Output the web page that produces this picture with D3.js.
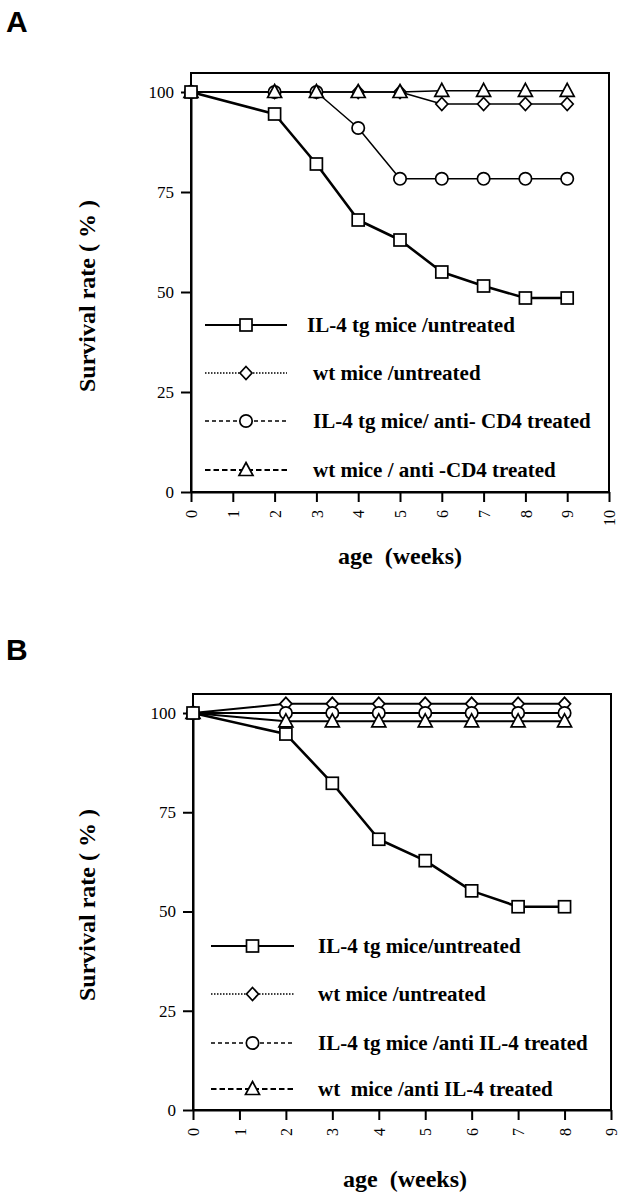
<!DOCTYPE html>
<html>
<head>
<meta charset="utf-8">
<script src="https://cdn.jsdelivr.net/npm/d3@7"></script>
<style>
  html, body { margin: 0; padding: 0; background: #fff; }
  svg text { font-family: "Liberation Serif", "Times New Roman", serif; fill: #000; }
</style>
</head>
<body>
<svg id="chart" width="628" height="1199"></svg>
<script>
// ---------------- DATA ----------------
// Panel A
const weeksA = [0, 2, 3, 4, 5, 6, 7, 8, 9];
const A_il4Untreated = [100, 94.5, 82, 68, 63, 55, 51.5, 48.5, 48.5];
const A_wtUntreated = [100, 100, 100, 100, 100, 97, 97, 97, 97];
const A_il4AntiCD4 = [100, 100, 100, 91, 78.3, 78.3, 78.3, 78.3, 78.3];
const A_wtAntiCD4 = [100, 100, 100, 100, 100, 100.3, 100.3, 100.3, 100.3];
const A_legendLabels = ["IL-4 tg mice /untreated", "wt mice /untreated",
  "IL-4 tg mice/ anti- CD4 treated", "wt mice / anti -CD4 treated"];
const A_xTicks = [0, 1, 2, 3, 4, 5, 6, 7, 8, 9, 10];

// Panel B
const weeksB = [0, 2, 3, 4, 5, 6, 7, 8];
const B_il4Untreated = [100, 94.7, 82.3, 68.2, 62.8, 55.2, 51.2, 51.2];
const B_wtUntreated = [100, 102.3, 102.3, 102.3, 102.3, 102.3, 102.3, 102.3];
const B_il4AntiIL4 = [100, 100, 100, 100, 100, 100, 100, 100];
const B_wtAntiIL4 = [100, 97.9, 97.9, 97.9, 97.9, 97.9, 97.9, 97.9];
const B_legendLabels = ["IL-4 tg mice/untreated", "wt mice /untreated",
  "IL-4 tg mice /anti IL-4 treated", "wt  mice /anti IL-4 treated"];
const B_xTicks = [0, 1, 2, 3, 4, 5, 6, 7, 8, 9];

const yTicks = [0, 25, 50, 75, 100];
const markerKinds = ["square", "diamond", "circle", "triangle"];

// ---------------- DRAWING ----------------
const svg = d3.select("#chart");
const SERIF = "'Liberation Serif', 'Times New Roman', serif";

function marker(g, kind, cx, cy) {
  const s = 12;
  let el;
  if (kind === "square") {
    el = g.append("rect").attr("x", cx - s / 2).attr("y", cy - s / 2)
      .attr("width", s).attr("height", s);
  } else if (kind === "circle") {
    el = g.append("circle").attr("cx", cx).attr("cy", cy).attr("r", 6.2);
  } else if (kind === "diamond") {
    el = g.append("path").attr("d",
      `M${cx},${cy - 6.5}L${cx + 6},${cy}L${cx},${cy + 6.5}L${cx - 6},${cy}Z`);
  } else {
    el = g.append("path").attr("d",
      `M${cx},${cy - 7.5}L${cx + 7},${cy + 5.5}L${cx - 7},${cy + 5.5}Z`);
  }
  el.attr("fill", "#fff").attr("stroke", "#000").attr("stroke-width", 1.7);
}

function drawPanel(cfg) {
  const g = svg.append("g");
  const x = d3.scaleLinear().domain([0, cfg.xMax]).range([cfg.left, cfg.right]);
  const y = d3.scaleLinear().domain([0, 100]).range([cfg.bottom, cfg.y100]);

  // frame
  g.append("rect").attr("x", cfg.left).attr("y", cfg.top)
    .attr("width", cfg.right - cfg.left).attr("height", cfg.bottom - cfg.top)
    .attr("fill", "none").attr("stroke", "#000").attr("stroke-width", 2);

  // y axis
  const ya = g.append("g").attr("transform", `translate(${cfg.left},0)`)
    .call(d3.axisLeft(y).tickValues(yTicks).tickSize(10).tickSizeOuter(0).tickPadding(7));
  ya.attr("font-family", null).attr("font-size", null);
  ya.select(".domain").attr("stroke-width", 2);
  ya.selectAll(".tick line").attr("stroke-width", 2);
  ya.selectAll(".tick text").style("font-size", "17px").style("font-family", SERIF);

  // x axis
  const xa = g.append("g").attr("transform", `translate(0,${cfg.bottom})`)
    .call(d3.axisBottom(x).tickValues(cfg.xTicks).tickSize(10).tickSizeOuter(0));
  xa.attr("font-family", null).attr("font-size", null);
  xa.select(".domain").attr("stroke-width", 2);
  xa.selectAll(".tick line").attr("stroke-width", 2);
  xa.selectAll(".tick text").style("font-size", "16px").style("font-family", SERIF)
    .attr("x", 0).attr("y", 0).attr("dy", "0.35em")
    .attr("text-anchor", "end")
    .attr("transform", "translate(0,18) rotate(-90)");

  // lines and markers
  const line = d3.line().x(d => x(d[0])).y(d => y(d[1]));
  const order = [1, 2, 3, 0];
  order.forEach(i => {
    const vals = cfg.series[i];
    const pts = cfg.weeks.map((w, j) => [w, vals[j]]);
    g.append("path").attr("d", line(pts)).attr("fill", "none")
      .attr("stroke", "#000").attr("stroke-width", i === 0 ? 2.6 : cfg.thinWidth)
      .attr("stroke-linejoin", "round");
  });
  order.forEach(i => {
    const vals = cfg.series[i];
    cfg.weeks.forEach((w, j) => marker(g, markerKinds[i], x(w), y(vals[j])));
  });

  // legend
  const dashes = [null, "1.5,1.5", "4,3", "5.5,3"];
  const widths = [2, 1.6, 1.6, 2];
  cfg.legendRows.forEach((ly, i) => {
    g.append("line").attr("x1", cfg.legX1).attr("x2", cfg.legX2)
      .attr("y1", ly).attr("y2", ly).attr("stroke", "#000")
      .attr("stroke-width", widths[i])
      .attr("stroke-dasharray", dashes[i]);
    marker(g, markerKinds[i], (cfg.legX1 + cfg.legX2) / 2, ly);
    g.append("text").attr("x", cfg.legTextX[i]).attr("y", ly + 7)
      .attr("xml:space", "preserve").style("white-space", "pre")
      .style("font-size", "21px").style("font-weight", "bold")
      .text(cfg.labels[i]);
  });

  // axis titles
  g.append("text").attr("x", cfg.xTitleX).attr("y", cfg.xTitleY)
    .attr("text-anchor", "middle").style("white-space", "pre")
    .style("font-size", "24px").style("font-weight", "bold")
    .text("age  (weeks)");
  g.append("text").attr("transform", `translate(${cfg.yTitleX},${cfg.yTitleY}) rotate(-90)`)
    .attr("text-anchor", "middle").style("white-space", "pre")
    .style("font-size", "24px").style("font-weight", "bold")
    .text("Survival rate ( % )");

  // panel letter
  g.append("text").attr("x", cfg.letterX).attr("y", cfg.letterY)
    .style("font-family", "'Liberation Sans', Arial, sans-serif")
    .style("font-size", "30px").style("font-weight", "bold")
    .text(cfg.letter);
}

drawPanel({
  letter: "A", letterX: 6, letterY: 32,
  left: 191, right: 609, top: 73, bottom: 492, y100: 92, xMax: 10,
  xTicks: A_xTicks, weeks: weeksA,
  series: [A_il4Untreated, A_wtUntreated, A_il4AntiCD4, A_wtAntiCD4],
  thinWidth: 1.5,
  labels: A_legendLabels,
  legendRows: [325, 373, 421, 470], legX1: 205, legX2: 287,
  legTextX: [307, 313, 313, 313],
  xTitleX: 400, xTitleY: 564, yTitleX: 95, yTitleY: 296
});

drawPanel({
  letter: "B", letterX: 6, letterY: 660,
  left: 193, right: 611, top: 694, bottom: 1110, y100: 713, xMax: 9,
  xTicks: B_xTicks, weeks: weeksB,
  series: [B_il4Untreated, B_wtUntreated, B_il4AntiIL4, B_wtAntiIL4],
  thinWidth: 2,
  labels: B_legendLabels,
  legendRows: [946, 994, 1043, 1089], legX1: 211, legX2: 294,
  legTextX: [318, 318, 318, 318],
  xTitleX: 405, xTitleY: 1187, yTitleX: 95, yTitleY: 905
});
</script>
</body>
</html>
